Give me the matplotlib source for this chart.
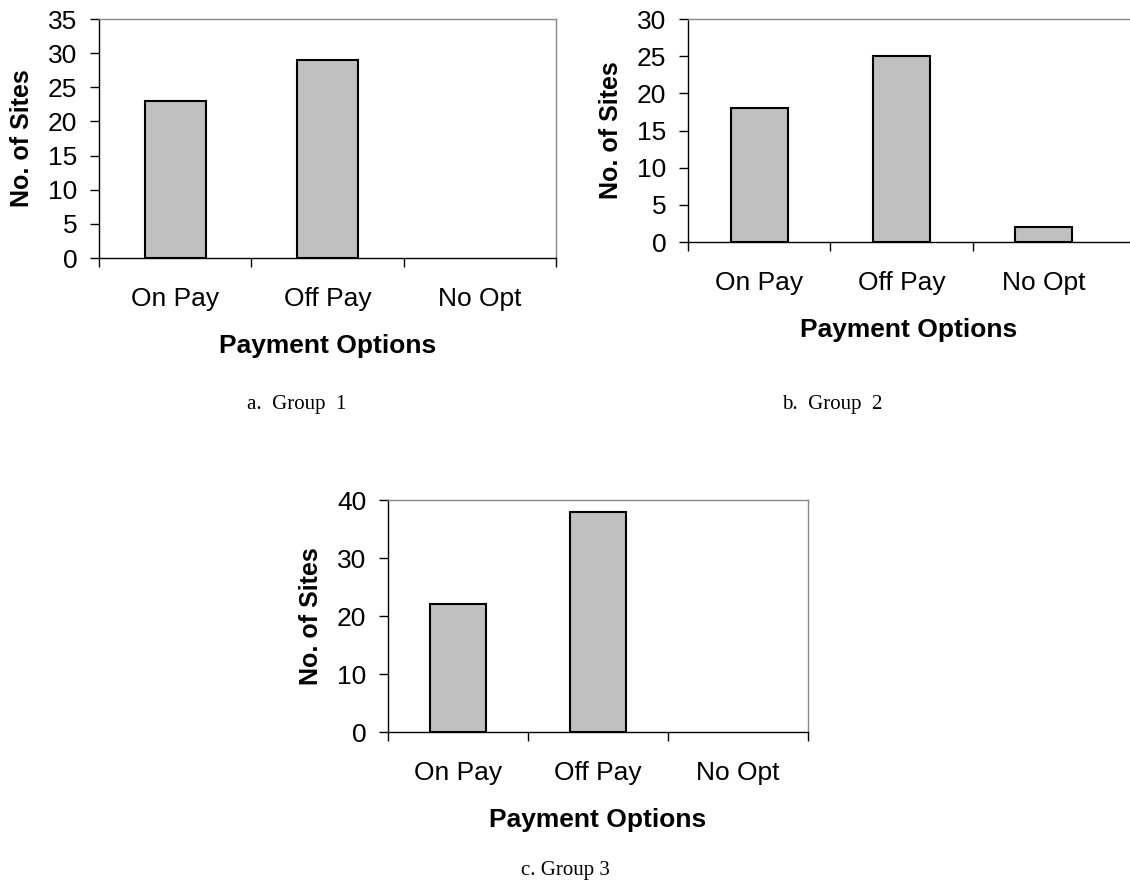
import matplotlib
matplotlib.use("Agg")
import matplotlib.pyplot as plt

# data
categories = ["On Pay", "Off Pay", "No Opt"]
group1 = [23, 29, 0]
group2 = [18, 25, 2]
group3 = [22, 38, 0]
ylims = [35, 30, 40]
ysteps = [5, 5, 10]
captions = ["a.  Group  1", "b.  Group  2", "c. Group 3"]

W, H = 1130, 881
plt.rcParams['font.family'] = ['Liberation Sans', 'DejaVu Sans']

fig = plt.figure(figsize=(W / 100, H / 100), dpi=100)


def px_axes(left, top, right, bottom):
    return fig.add_axes([left / W, (H - bottom) / H, (right - left) / W, (bottom - top) / H])


def draw(ax, values, ymax, step, xright=2.5, edge_ticks=4):
    x = range(len(categories))
    # zero bars have no visible outline in the reference
    lws = [1.5 if v else 0 for v in values]
    ax.bar(x, values, width=0.4, color='#C0C0C0', edgecolor='black', linewidth=lws, zorder=3)
    ax.set_xlim(-0.5, xright)
    ax.set_ylim(0, ymax)
    ax.set_yticks(range(0, ymax + 1, step))
    ax.set_xticks(list(x))
    ax.set_xticklabels(categories)
    ax.set_xticks([-0.5 + i for i in range(edge_ticks)], minor=True)
    ax.tick_params(axis='x', which='major', length=0, pad=21, labelsize=19)
    ax.tick_params(axis='x', which='minor', length=6.5, width=1)
    ax.tick_params(axis='y', length=6.5, width=1, pad=9, labelsize=19)
    for s in ['left', 'bottom']:
        ax.spines[s].set_color('black')
        ax.spines[s].set_linewidth(1)
    for s in ['top', 'right']:
        ax.spines[s].set_color('#888888')
        ax.spines[s].set_linewidth(1)
    ax.set_xlabel("Payment Options", fontsize=19, fontweight='bold', labelpad=16.5)
    ax.set_ylabel("No. of Sites", fontsize=18, fontweight='bold', labelpad=10)


ax1 = px_axes(99, 19, 556, 258)
draw(ax1, group1, ylims[0], ysteps[0])

ax2 = px_axes(688, 19, 1130, 242)
draw(ax2, group2, ylims[1], ysteps[1], xright=2.5 + 15 / 142, edge_ticks=3)
ax2.spines['right'].set_visible(False)

ax3 = px_axes(388, 500, 808, 732)
draw(ax3, group3, ylims[2], ysteps[2])

fig.text(297 / W, 1 - 404 / H, captions[0], family='Liberation Serif', fontsize=15, ha='center', va='center')
fig.text(832 / W, 1 - 404 / H, captions[1], family='Liberation Serif', fontsize=15, ha='center', va='center')
fig.text(565 / W, 1 - 870 / H, captions[2], family='Liberation Serif', fontsize=15, ha='center', va='center')

fig.savefig("out.png", dpi=100)
